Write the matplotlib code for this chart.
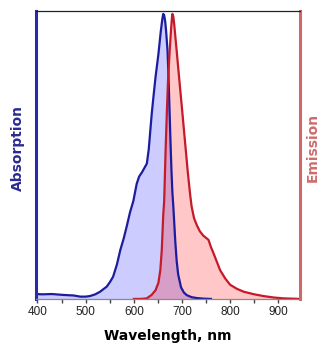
import numpy as np
import matplotlib
matplotlib.use('Agg')
import matplotlib.pyplot as plt
from matplotlib.ticker import MultipleLocator

# absorption spectrum (normalised)
abs_nm = [397, 410, 430, 453, 475, 489, 500, 509, 520, 530, 544, 551, 557, 565, 572, 579,
          585, 592, 599, 606, 611, 617, 622, 627, 631, 634, 637, 640, 645, 651, 656, 659,
          661, 663, 665, 667, 670, 672, 674, 676, 678, 680, 682, 684, 686, 689, 692, 698,
          704, 710, 720, 731, 745, 760]
abs_val = [0.017, 0.016, 0.017, 0.014, 0.012, 0.008, 0.008, 0.010, 0.016, 0.025, 0.043, 0.060,
           0.077, 0.12, 0.17, 0.21, 0.25, 0.30, 0.34, 0.40, 0.425, 0.44, 0.455, 0.47, 0.52,
           0.58, 0.64, 0.69, 0.77, 0.85, 0.93, 0.97, 0.99, 0.985, 0.965, 0.93, 0.86, 0.77,
           0.66, 0.55, 0.45, 0.37, 0.32, 0.26, 0.20, 0.13, 0.085, 0.04, 0.022, 0.013, 0.006,
           0.003, 0.001, 0.0]

# emission spectrum
em_nm = [600, 615, 627, 637, 645, 651, 655, 658, 661, 663, 666, 669, 671, 674, 677, 679,
         680, 682, 684, 689, 695, 700, 706, 712, 717, 720, 725, 731, 737, 744, 750, 755, 760,
         765, 772, 779, 790, 800, 814, 828, 850, 869, 890, 910, 945]
em_val = [0.0, 0.0, 0.002, 0.014, 0.03, 0.056, 0.10, 0.17, 0.29, 0.34, 0.52, 0.67, 0.76,
          0.85, 0.93, 0.975, 0.99, 0.98, 0.95, 0.86, 0.75, 0.66, 0.55, 0.44, 0.36, 0.32, 0.28,
          0.255, 0.235, 0.22, 0.212, 0.205, 0.18, 0.16, 0.13, 0.10, 0.07, 0.049, 0.035, 0.025,
          0.016, 0.010, 0.005, 0.002, 0.0]

xticks = [400, 500, 600, 700, 800, 900]

fig = plt.figure(figsize=(3.21, 3.44), dpi=100)
ax = fig.add_axes([0.112, 0.131, 0.823, 0.837])

ax.fill_between(abs_nm, abs_val, color='#0000ff', alpha=0.2, lw=0)
ax.fill_between(em_nm, em_val, color='#ff0000', alpha=0.22, lw=0)
ax.plot(abs_nm, abs_val, color='#1c1ca0', lw=1.6)
ax.plot(em_nm, em_val, color='#c41a2a', lw=1.6)

ax.set_xlim(397, 945)
ax.set_ylim(0, 1.0)
ax.set_yticks([])
ax.set_xticks(xticks)
ax.xaxis.set_minor_locator(MultipleLocator(50))
ax.tick_params(axis='x', which='both', direction='out', length=3, width=1,
               color='#444444', pad=2)
ax.set_xticklabels([str(t) for t in xticks], fontsize=8.5, family='Liberation Sans',
                   color='#222222')

ax.spines['left'].set_color('#2a2aa8')
ax.spines['left'].set_linewidth(2.2)
ax.spines['right'].set_color('#d06868')
ax.spines['right'].set_linewidth(2.2)
ax.spines['top'].set_color('#222222')
ax.spines['top'].set_linewidth(0.9)
ax.spines['bottom'].set_color('#888888')
ax.spines['bottom'].set_linewidth(0.9)

ax.set_xlabel('Wavelength, nm', fontsize=10, fontweight='bold', labelpad=8)
fig.text(0.055, 0.57, 'Absorption', rotation=90, ha='center', va='center',
         fontsize=10, fontweight='bold', color='#2b2b90')
fig.text(0.974, 0.57, 'Emission', rotation=90, ha='center', va='center',
         fontsize=10, fontweight='bold', color='#cd6c6c')

fig.savefig('out.png', dpi=100)
